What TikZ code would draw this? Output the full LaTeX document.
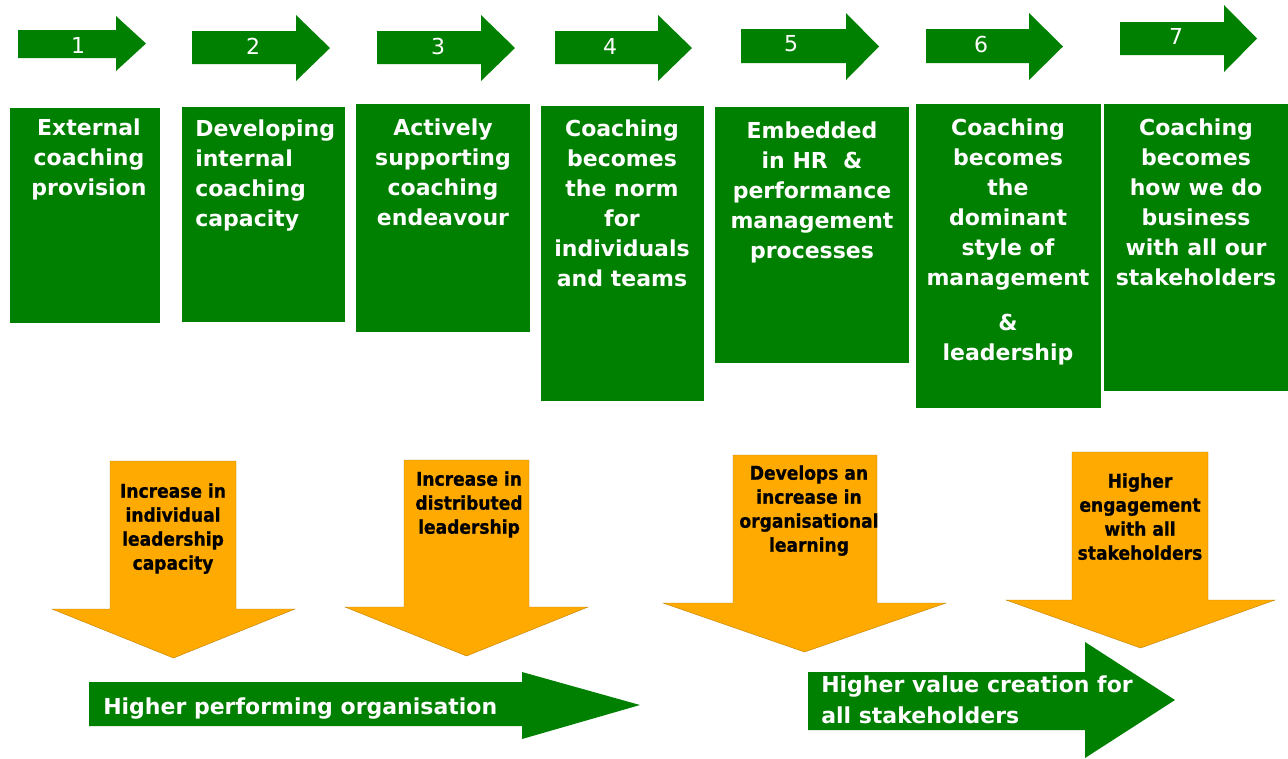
\documentclass[tikz,border=0pt]{standalone}
\usepackage{fontspec}
\setmainfont{DejaVu Sans}
\newfontfamily\narrowfont[FakeStretch=0.9,FakeBold=0.8]{DejaVu Sans Bold}
\definecolor{stagegreen}{RGB}{0,128,0}
\definecolor{gainorange}{RGB}{255,170,0}
\tikzset{
	stage/.style={fill=stagegreen},
	stagetext/.style={anchor=north, inner sep=0pt, text=white, align=center, font=\fontsize{16.5}{22.5}\selectfont\bfseries},
	numtext/.style={inner sep=0pt, text=white, font=\fontsize{16.5}{20}\selectfont},
	gain/.style={fill=gainorange, draw=gainorange!75!black, line width=0.3pt},
	gaintext/.style={anchor=north, inner sep=0pt, align=center, font=\fontsize{14.25}{18}\selectfont\narrowfont},
	resulttext/.style={inner sep=0pt, text=white, align=left, font=\fontsize{16.5}{23}\selectfont\bfseries}
}
\begin{document}
\begin{tikzpicture}[x=0.75pt, y=-0.75pt]
		\useasboundingbox (0,0) rectangle (1288,758);
		\foreach \bx/\bt/\bb/\hx/\hu/\hd/\tx/\n/\lx/\ly in {18/30/58/116/16/71/146/1/78/45, 192/31/64/296/15/81/330/2/253/46, 377/31/64/481/15/81/515/3/438/46, 555/31/64/658/15/81/692/4/610/46, 741/29/63/846/13/80/879/5/791/44, 926/29/63/1029/13/80/1063/6/981/44, 1120/22/55/1224/5/72/1257/7/1176/36} {
			\fill[stage] (\bx,\bt) -- (\hx,\bt) -- (\hx,\hu) -- (\tx,{(\hu+\hd)/2}) -- (\hx,\hd) -- (\hx,\bb) -- (\bx,\bb) -- cycle;
			\node[numtext] (num\n) at (\lx,\ly) {\n};
		}
		\fill[stage] (10,108) rectangle (160,323);
		\fill[stage] (182,107) rectangle (345,322);
		\fill[stage] (356,104) rectangle (530,332);
		\fill[stage] (541,106) rectangle (704,401);
		\fill[stage] (715,107) rectangle (909,363);
		\fill[stage] (916,104) rectangle (1101,408);
		\fill[stage] (1104,104) rectangle (1288,391);
		\node[stagetext] (stage1) at (89,119) {External\\coaching\\provision};
		\node[stagetext, anchor=north west, align=left] (stage2) at (195,120) {Developing\\internal\\coaching\\capacity};
		\node[stagetext] (stage3) at (443,119) {Actively\\supporting\\coaching\\endeavour};
		\node[stagetext] (stage4) at (622,120) {Coaching\\becomes\\the norm\\for\\individuals\\and teams};
		\node[stagetext] (stage5) at (812,122) {Embedded\\in HR~ \&\\performance\\management\\processes};
		\node[stagetext] (stage6) at (1008,119) {Coaching\\becomes\\the\\dominant\\style of\\management\\[11pt]\&\\leadership};
		\node[stagetext] (stage7) at (1196,119) {Coaching\\becomes\\how we do\\business\\with all our\\stakeholders};
		\foreach \sl/\sr/\st/\sy/\hl/\hr/\ty in {110/236/461/609/52/295/658, 404/529/460/607/345/588/656, 733/877/455/603/663/946/652, 1072/1208/452/600/1006/1275/648}
			\draw[gain] (\sl,\st) -- (\sr,\st) -- (\sr,\sy) -- (\hr,\sy) -- ({(\hl+\hr)/2},\ty) -- (\hl,\sy) -- (\sl,\sy) -- cycle;
		\node[gaintext] (gain1) at (173,483) {Increase in\\individual\\leadership\\capacity};
		\node[gaintext] (gain2) at (469,471) {Increase in\\distributed\\leadership};
		\node[gaintext] (gain3) at (809,465) {Develops an\\increase in\\organisational\\learning};
		\node[gaintext] (gain4) at (1140,473) {Higher\\engagement\\with all\\stakeholders};
		\fill[stage] (89,682) -- (522,682) -- (522,672) -- (640,705) -- (522,739) -- (522,726) -- (89,726) -- cycle;
		\fill[stage] (808,672) -- (1085,672) -- (1085,642) -- (1175,700) -- (1085,758) -- (1085,730) -- (808,730) -- cycle;
		\node[resulttext, anchor=base west] (perform) at (103,714) {Higher performing organisation};
		\node[resulttext, anchor=north west] (value) at (821,676) {Higher value creation for\\all stakeholders};
	\end{tikzpicture}
\end{document}
